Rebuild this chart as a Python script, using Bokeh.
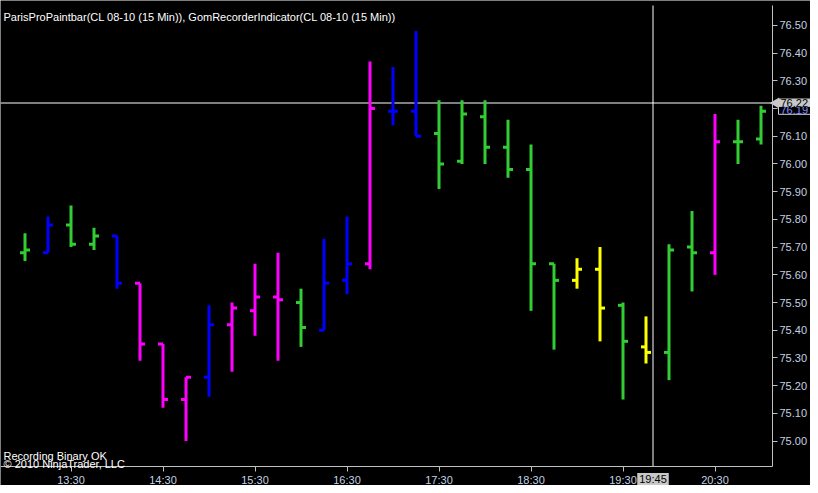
import math
from bokeh.plotting import figure
from bokeh.models import ColumnDataSource, Range1d, FixedTicker, Label, PrintfTickFormatter
from bokeh.embed import file_html
from bokeh.resources import INLINE

# ---------------- data ----------------
times = ["13:00", "13:15", "13:30", "13:45", "14:00", "14:15", "14:30", "14:45",
         "15:00", "15:15", "15:30", "15:45", "16:00", "16:15", "16:30", "16:45",
         "17:00", "17:15", "17:30", "17:45", "18:00", "18:15", "18:30", "18:45",
         "19:00", "19:15", "19:30", "19:45", "20:00", "20:15", "20:30", "20:45", "21:00"]
opens = [75.68, 75.68, 75.78, 75.71, 75.74, 75.57, 75.35, 75.15,
         75.23, 75.42, 75.47, 75.52, 75.50, 75.40, 75.58, 75.64,
         76.19, 76.19, 76.11, 76.01, 76.17, 76.06, 75.98, 75.64,
         75.58, 75.62, 75.49, 75.34, 75.32, 75.70, 75.68, 76.08, 76.09]
highs = [75.75, 75.81, 75.85, 75.77, 75.74, 75.57, 75.35, 75.23,
         75.49, 75.50, 75.64, 75.68, 75.55, 75.73, 75.81, 76.37,
         76.35, 76.48, 76.23, 76.23, 76.23, 76.16, 76.07, 75.64,
         75.66, 75.70, 75.50, 75.45, 75.71, 75.83, 76.18, 76.16, 76.21]
lows = [75.65, 75.68, 75.70, 75.69, 75.55, 75.29, 75.12, 75.00,
        75.16, 75.25, 75.38, 75.29, 75.34, 75.40, 75.53, 75.62,
        76.14, 76.10, 75.91, 76.00, 76.00, 75.95, 75.47, 75.33,
        75.55, 75.36, 75.15, 75.28, 75.22, 75.54, 75.60, 76.00, 76.07]
closes = [75.69, 75.78, 75.71, 75.74, 75.57, 75.35, 75.15, 75.23,
          75.42, 75.48, 75.52, 75.51, 75.41, 75.57, 75.64, 76.20,
          76.19, 76.10, 76.00, 76.18, 76.06, 75.98, 75.64, 75.58,
          75.62, 75.48, 75.36, 75.32, 75.69, 75.68, 76.08, 76.08, 76.19]
paint = ["green", "blue", "green", "green", "blue", "magenta", "magenta", "magenta",
         "blue", "magenta", "magenta", "magenta", "green", "blue", "blue", "magenta",
         "blue", "blue", "green", "green", "green", "green", "green", "green",
         "yellow", "yellow", "green", "yellow", "green", "green", "magenta", "green", "green"]

time_tick_labels = ["13:30", "14:30", "15:30", "16:30", "17:30", "18:30", "19:30", "20:30"]
price_ticks = [75.00, 75.10, 75.20, 75.30, 75.40, 75.50, 75.60, 75.70,
               75.80, 75.90, 76.00, 76.10, 76.20, 76.30, 76.40, 76.50]

crosshair_time_label = "19:45"
crosshair_price = 76.22
last_price = 76.19

title_text = "ParisProPaintbar(CL 08-10 (15 Min)), GomRecorderIndicator(CL 08-10 (15 Min))"
status_text = "Recording Binary OK"
copyright_text = "\u00a9 2010 NinjaTrader, LLC"

# ---------------- styling / geometry ----------------
palette = {"green": "#32CD32", "blue": "#0000FF", "magenta": "#FF00FF", "yellow": "#FFFF00"}
FONT = "Liberation Sans"
AXIS_COL = "#c0c0c0"
LABEL_COL = "#c4d0e0"

W, H = 810, 485                       # whole canvas is the frame
PLOT_TOP, PLOT_BOTTOM, PLOT_RIGHT = 5, 466, 772   # where the axes sit
PX_PER_MIN = 23.0 / 15.0
X_LEFT = 780 - 24.5 / PX_PER_MIN      # minutes at left edge
PX_PER_USD = 415.7 / 1.5
Y_TOP = 76.22 + 102.5 / PX_PER_USD    # price at top edge
Y_BOT = Y_TOP - H / PX_PER_USD


def to_min(t):
    h, m = t.split(":")
    return int(h) * 60 + int(m)


def px_x(px):                 # pixel column -> minutes
    return X_LEFT + px / PX_PER_MIN


def px_price(py):             # pixel row -> price
    return Y_TOP - py / PX_PER_USD


def price_py(price):          # price -> pixel row
    return (Y_TOP - price) * PX_PER_USD


def sy(py):                   # pixel row -> screen units (from bottom, upward)
    return H - py


xs = [to_min(t) for t in times]
tick_len = 5.0 / PX_PER_MIN

src = ColumnDataSource(dict(
    x=xs, o=opens, h=highs, l=lows, c=closes,
    xl=[x - tick_len for x in xs], xr=[x + tick_len for x in xs],
    color=[palette[k] for k in paint],
))

p = figure(frame_width=W, frame_height=H,
           x_range=Range1d(X_LEFT, px_x(W)), y_range=Range1d(Y_BOT, Y_TOP),
           y_axis_location="right", toolbar_location=None, output_backend="svg",
           background_fill_color="black", border_fill_color="black",
           outline_line_color=None, min_border=0)
p.grid.visible = False

x_axis_left, x_axis_right = px_x(0), px_x(PLOT_RIGHT)
y_axis_top, y_axis_bottom = px_price(PLOT_TOP), px_price(PLOT_BOTTOM)

# crosshair (drawn first, behind bars)
cross_x = px_x(652.5)
p.segment(x0=[x_axis_left], y0=[crosshair_price], x1=[x_axis_right], y1=[crosshair_price],
          line_color="white", line_width=1)
p.segment(x0=[cross_x], y0=[y_axis_top], x1=[cross_x], y1=[y_axis_bottom],
          line_color="white", line_width=1)

# OHLC bars
p.segment("x", "l", "x", "h", source=src, line_color="color", line_width=3, line_cap="butt")
p.segment("xl", "o", "x", "o", source=src, line_color="color", line_width=3, line_cap="butt")
p.segment("x", "c", "xr", "c", source=src, line_color="color", line_width=3, line_cap="butt")

# axes (placed inside the canvas at fixed locations)
xax = p.xaxis[0]
xax.ticker = FixedTicker(ticks=[to_min(t) for t in time_tick_labels])
xax.major_label_overrides = {to_min(t): t for t in time_tick_labels}
xax.fixed_location = y_axis_bottom
xax.bounds = (x_axis_left, x_axis_right)
yax = p.yaxis[0]
yax.ticker = FixedTicker(ticks=price_ticks)
yax.formatter = PrintfTickFormatter(format="%.2f")
yax.fixed_location = x_axis_right
yax.bounds = (y_axis_bottom, y_axis_top)
for ax in (xax, yax):
    ax.axis_line_color = AXIS_COL
    ax.major_tick_line_color = AXIS_COL
    ax.minor_tick_line_color = None
    ax.major_tick_out = 5
    ax.major_tick_in = 0
    ax.major_label_text_color = LABEL_COL
    ax.major_label_text_font = FONT
    ax.major_label_text_font_size = "11px"
xax.major_label_standoff = 2
yax.major_label_standoff = 2


def text_label(x, py, txt, **kw):
    opts = dict(text_color="white", text_font=FONT, text_font_size="11px",
                text_baseline="alphabetic", x_units="screen", y_units="screen")
    opts.update(kw)
    p.add_layout(Label(x=x, y=sy(py), text=txt, **opts))


text_label(3, 16.5, title_text)
text_label(3, 455, status_text)
text_label(3, 463.5, copyright_text)

# last price marker (partly hidden) and crosshair price / time boxes
text_label(778, price_py(last_price) - 1, "%.2f" % last_price, text_color="#8090ff",
           text_baseline="middle", background_fill_color="black",
           border_line_color="#d0d0d0", padding=dict(left=2, right=3, top=0, bottom=0))
p.scatter(x=[px_x(775.5)], y=[crosshair_price], marker="triangle", angle=math.pi / 2,
          size=11, fill_color="#c8c8c8", line_color=None)
text_label(778, price_py(crosshair_price) - 0.5, "%.2f" % crosshair_price, text_color="black",
           text_baseline="middle", background_fill_color="#c8c8c8",
           padding=dict(left=2, right=8, top=0, bottom=0))
text_label(652.5, 478.5, crosshair_time_label, text_color="black", text_align="center",
           text_baseline="middle", background_fill_color="#c8c8c8",
           padding=dict(left=2, right=2, top=0, bottom=0))

open("out.html", "w").write(file_html(p, INLINE))
